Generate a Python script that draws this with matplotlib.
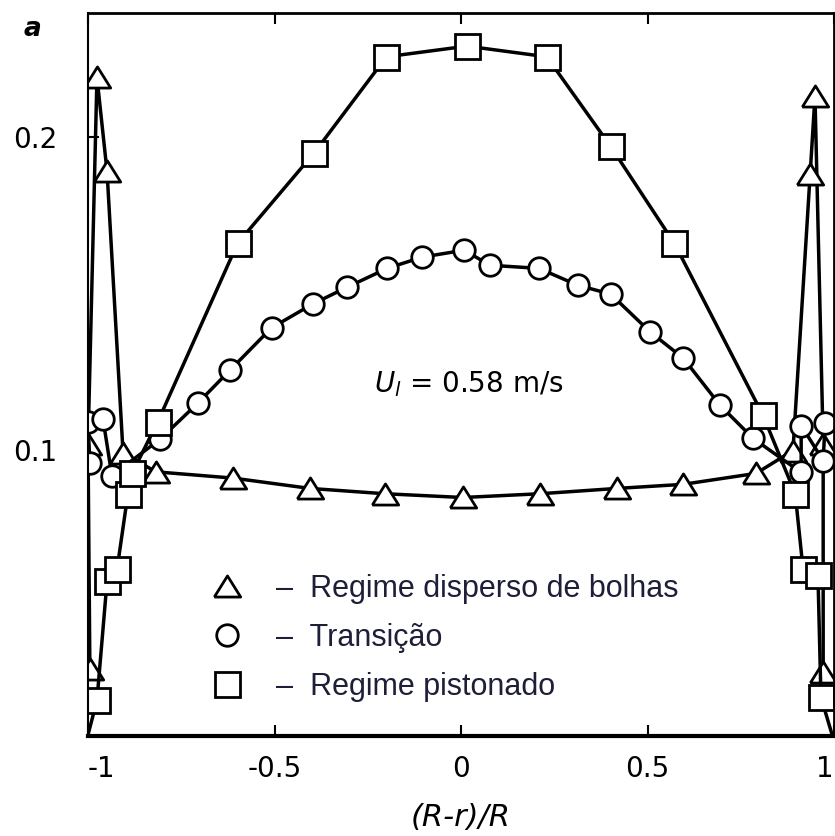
import matplotlib
matplotlib.use("Agg")
import matplotlib.pyplot as plt
from matplotlib.lines import Line2D

# Local void fraction across the pipe diameter, U_l = 0.58 m/s
# bubbly flow (triangles)
TRI_X = [-0.995, -1.0, -0.976, -0.949, -0.906, -0.818, -0.611, -0.405, -0.204, 0.005,
         0.212, 0.418, 0.595, 0.791, 0.890, 0.936, 0.949, 0.971, 0.971]
TRI_Y = [0.030, 0.102, 0.219, 0.189, 0.099, 0.093, 0.091, 0.0877, 0.086, 0.0848,
         0.086, 0.0877, 0.089, 0.0925, 0.0998, 0.188, 0.213, 0.102, 0.029]

# transition (circles)
CIRC_X = [-0.995, -1.0, -0.960, -0.936, -0.807, -0.706, -0.620, -0.508, -0.398, -0.305,
          -0.198, -0.104, 0.008, 0.078, 0.209, 0.313, 0.401, 0.508, 0.596, 0.695,
          0.783, 0.912, 0.912, 0.971, 0.976]
CIRC_Y = [0.0957, 0.1088, 0.110, 0.0918, 0.1034, 0.1149, 0.1254, 0.139, 0.1466, 0.152,
          0.158, 0.1616, 0.1638, 0.159, 0.158, 0.1526, 0.1498, 0.1376, 0.1293, 0.1142,
          0.1037, 0.0928, 0.1078, 0.0966, 0.1085]

# slug flow (squares); first and last entries are the wall ends of the curve
SQ_X = [-1.0, -0.976, -0.949, -0.922, -0.893, -0.882, -0.813, -0.599, -0.393, -0.200,
        0.016, 0.230, 0.401, 0.572, 0.810, 0.896, 0.917, 0.957, 0.965, 0.995]
SQ_Y = [0.009, 0.020, 0.058, 0.062, 0.086, 0.0925, 0.109, 0.166, 0.195, 0.2256,
        0.229, 0.2256, 0.197, 0.166, 0.111, 0.086, 0.062, 0.060, 0.021, 0.009]

LABELS = ["Regime disperso de bolhas", "Transição", "Regime pistonado"]
X_TICKS = [-1, -0.5, 0, 0.5, 1]
X_TICK_LABELS = ["-1", "-0.5", "0", "0.5", "1"]
Y_TICKS = [0.1, 0.2]
Y_TICK_LABELS = ["0.1", "0.2"]

TRI = [(-1, -0.8), (1, -0.8), (0, 0.8), (-1, -0.8)]

fig = plt.figure(figsize=(8.35, 8.36), dpi=100)
ax = fig.add_axes([0.1054, 0.1196, 0.8934, 0.8649])

style = dict(color="black", lw=2.5, mfc="white", mec="black", mew=2.0)
ax.plot(TRI_X, TRI_Y, marker=TRI, ms=19, **style)
ax.plot(CIRC_X, CIRC_Y, marker="o", ms=15.5, **style)
ax.plot(SQ_X, SQ_Y, marker="s", ms=18, markevery=slice(1, len(SQ_X) - 1), **style)

ax.set_xlim(-1.0, 0.995)
ax.set_ylim(0.0086, 0.2396)

ax.set_xticks(X_TICKS)
ax.set_xticklabels(X_TICK_LABELS)
ax.set_yticks(Y_TICKS)
ax.set_yticklabels(Y_TICK_LABELS)
ax.tick_params(axis="x", direction="in", length=8, width=1.5, pad=14,
               labelsize=20, top=True)
ax.tick_params(axis="y", direction="in", length=8, width=1.5, pad=22, labelsize=20)
# end labels sit inside the frame edges
xt = ax.get_xticklabels()
xt[0].set_horizontalalignment("left")
xt[-1].set_horizontalalignment("right")

for side, w in [("left", 1.5), ("right", 2.0), ("top", 2.0), ("bottom", 3.0)]:
    ax.spines[side].set_linewidth(w)

ax.set_xlabel("(R-r)/R", fontsize=22, style="italic", labelpad=14)
ax.set_ylabel("a", fontsize=19, style="italic", fontweight="bold", rotation=0)
ax.yaxis.set_label_coords(-0.075, 0.96)

ax.text(0.02, 0.121, r"$U_l$ = 0.58 m/s", fontsize=20, ha="center", va="center")

handles = [
    Line2D([], [], ls="none", marker=TRI, ms=19, mfc="white", mec="black", mew=2.0),
    Line2D([], [], ls="none", marker="o", ms=15.5, mfc="white", mec="black", mew=2.0),
    Line2D([], [], ls="none", marker="s", ms=18, mfc="white", mec="black", mew=2.0),
]
leg = ax.legend(handles, ["–  " + s for s in LABELS], loc="upper left",
                bbox_to_anchor=(0.125, 0.245), frameon=False, handletextpad=0.6,
                labelspacing=0.62, borderpad=0,
                prop={"family": "Liberation Sans", "size": 22})
for t in leg.get_texts():
    t.set_color("#1e1e38")

fig.savefig("out.png", dpi=100)
